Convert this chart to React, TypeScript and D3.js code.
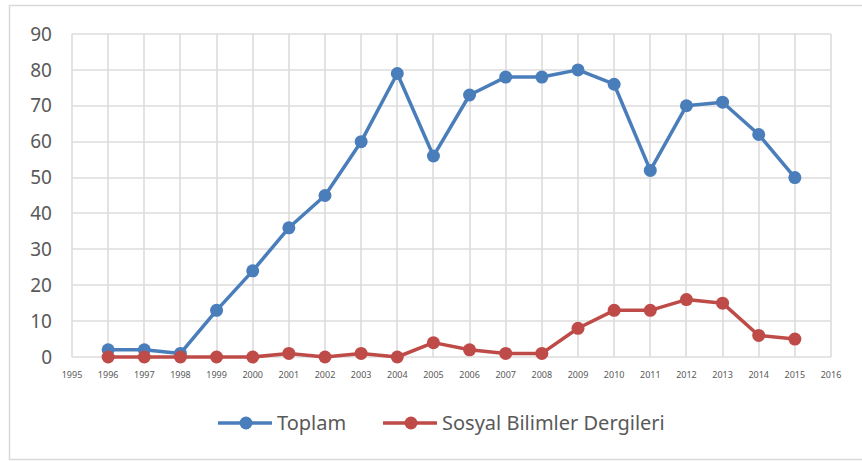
import React, { useRef, useEffect } from 'react';
import * as d3 from 'd3';

const years = [1996, 1997, 1998, 1999, 2000, 2001, 2002, 2003, 2004, 2005, 2006, 2007, 2008, 2009, 2010, 2011, 2012, 2013, 2014, 2015];
const toplam = [2, 2, 1, 13, 24, 36, 45, 60, 79, 56, 73, 78, 78, 80, 76, 52, 70, 71, 62, 50];
const sosyal = [0, 0, 0, 0, 0, 1, 0, 1, 0, 4, 2, 1, 1, 8, 13, 13, 16, 15, 6, 5];
const yTicks = [0, 10, 20, 30, 40, 50, 60, 70, 80, 90];
const xTicks = d3.range(1995, 2017);

const series = [
  { name: 'Toplam', values: toplam, color: '#4a7ebb' },
  { name: 'Sosyal Bilimler Dergileri', values: sosyal, color: '#be4b48' },
];

const App = () => {
  const svgRef = useRef<SVGSVGElement>(null);

  useEffect(() => {
    const svg = d3.select(svgRef.current);
    svg.selectAll('*').remove();

    const font = '"Noto Sans", "Open Sans", sans-serif';
    const x = d3.scaleLinear().domain([1995, 2016]).range([72, 831]);
    const y = d3.scaleLinear().domain([0, 90]).range([357, 34]);

    // outer frame
    svg.append('rect')
       .attr('x', 9.5).attr('y', 5.5)
       .attr('width', 900).attr('height', 454)
       .attr('fill', '#fff')
       .attr('stroke', '#d9d9d9')
       .attr('stroke-width', 1.5);

    // grid
    svg.append('g')
       .selectAll('line')
       .data(yTicks)
       .join('line')
       .attr('x1', x(1995)).attr('x2', x(2016))
       .attr('y1', d => Math.round(y(d))).attr('y2', d => Math.round(y(d)))
       .attr('stroke', '#dcdcdc').attr('stroke-width', 1.6);

    svg.append('g')
       .selectAll('line')
       .data(xTicks)
       .join('line')
       .attr('x1', d => Math.round(x(d))).attr('x2', d => Math.round(x(d)))
       .attr('y1', y(90)).attr('y2', y(0))
       .attr('stroke', '#dcdcdc').attr('stroke-width', 1.6);

    // y labels
    svg.append('g')
       .selectAll('text')
       .data(yTicks)
       .join('text')
       .attr('x', 52)
       .attr('y', d => y(d))
       .attr('dy', '0.35em')
       .attr('text-anchor', 'end')
       .attr('fill', '#595959')
       .style('font-family', font)
       .style('font-size', '19px')
       .text(d => d);

    // x labels
    svg.append('g')
       .selectAll('text')
       .data(xTicks)
       .join('text')
       .attr('x', d => x(d))
       .attr('y', 375)
       .attr('dy', '0.35em')
       .attr('text-anchor', 'middle')
       .attr('fill', '#595959')
       .style('font-family', font)
       .style('font-size', '9px')
       .text(d => d);

    const line = d3.line<number>()
                   .x((d, i) => x(years[i]))
                   .y(d => y(d));

    series.forEach(s => {
      svg.append('path')
         .datum(s.values)
         .attr('d', line)
         .attr('fill', 'none')
         .attr('stroke', s.color)
         .attr('stroke-width', 3.5)
         .attr('stroke-linejoin', 'round');

      svg.append('g')
         .selectAll('circle')
         .data(s.values)
         .join('circle')
         .attr('cx', (d, i) => x(years[i]))
         .attr('cy', d => y(d))
         .attr('r', 6.5)
         .attr('fill', s.color);
    });

    // legend
    const legendX = [218, 383];
    series.forEach((s, i) => {
      const g = svg.append('g').attr('transform', `translate(${legendX[i]}, 423)`);
      g.append('line')
       .attr('x1', 0).attr('x2', 54)
       .attr('stroke', s.color).attr('stroke-width', 3.5);
      g.append('circle')
       .attr('cx', 28).attr('r', 6.5)
       .attr('fill', s.color);
      g.append('text')
       .attr('x', 59)
       .attr('dy', '0.35em')
       .attr('fill', '#595959')
       .style('font-family', font)
       .style('font-size', '20px')
       .text(s.name);
    });
  }, []);

  return (
    <svg ref={svgRef} width={862} height={461}
         style={{ position: 'fixed', top: 0, left: 0 }} />
  );
};

export default App;
